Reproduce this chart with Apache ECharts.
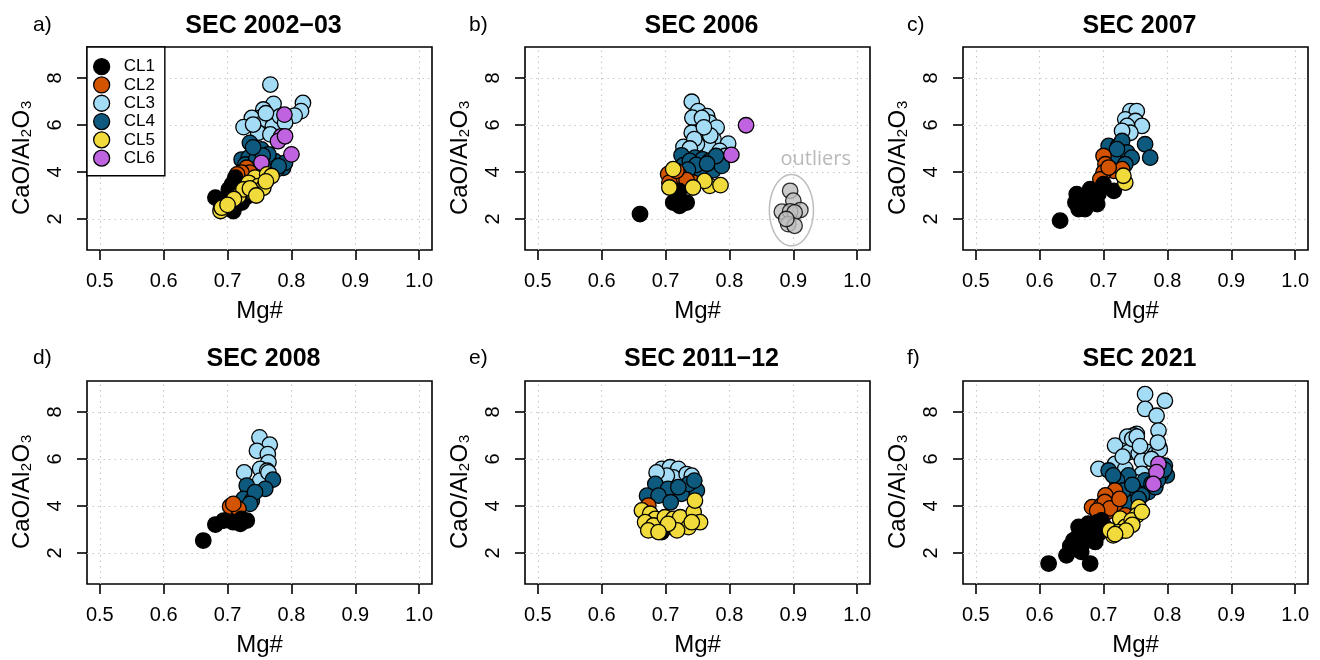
<!DOCTYPE html>
<html><head><meta charset="utf-8">
<script src="https://cdn.jsdelivr.net/npm/echarts@6/dist/echarts.min.js"></script>
<style>html,body{margin:0;padding:0;background:#fff}#c{width:1320px;height:660px}</style>
</head><body><div id="c"></div>
<script>
// ---------- data ----------
const clusterNames = ['CL1','CL2','CL3','CL4','CL5','CL6'];
const clusterColors = ['#000000','#D35400','#A4DCF6','#0E5A7E','#F0DA3C','#C063E0'];
const drawOrder = ['CL3','CL4','CL6','CL2','CL1','CL5'];
const xTicks = [0.5,0.6,0.7,0.8,0.9,1.0];
const yTicks = [2,4,6,8];
const panelTitles = ['SEC 2002\u221203','SEC 2006','SEC 2007','SEC 2008','SEC 2011\u221212','SEC 2021'];
const panelLetters = ['a)','b)','c)','d)','e)','f)'];
const xLabel = 'Mg#';
const yLabel = 'CaO/Al\u2082O\u2083';

// SEC 2002-03
const sec2002_CL1 = [[0.681,2.91],[0.689,2.77],[0.707,3.47],[0.712,3.76],[0.702,3.05],[0.709,2.34],[0.699,2.62],[0.717,3.26],[0.728,2.91],[0.722,2.70],[0.702,3.26],[0.690,2.50],[0.715,3.10],[0.705,2.90]];
const sec2002_CL2 = [[0.730,4.18],[0.735,3.97],[0.722,3.97],[0.715,3.90]];
const sec2002_CL3 = [[0.767,7.72],[0.772,6.90],[0.818,6.94],[0.815,6.59],[0.805,6.40],[0.756,6.66],[0.751,6.30],[0.738,6.30],[0.759,6.23],[0.771,5.95],[0.725,5.91],[0.748,5.67],[0.740,6.02],[0.782,6.37],[0.767,5.60],[0.760,6.50],[0.790,6.10]];
const sec2002_CL4 = [[0.735,5.24],[0.753,4.96],[0.743,4.82],[0.722,4.53],[0.733,4.61],[0.774,4.46],[0.787,4.18],[0.777,4.11],[0.769,4.32],[0.728,4.32],[0.764,4.75],[0.790,4.39],[0.762,4.04],[0.745,4.55],[0.755,4.70],[0.780,4.25],[0.740,5.05]];
const sec2002_CL5 = [[0.753,3.69],[0.743,3.76],[0.733,3.54],[0.762,3.90],[0.748,3.40],[0.756,3.33],[0.717,2.98],[0.689,2.34],[0.691,2.48],[0.740,3.12],[0.725,3.26],[0.769,3.83],[0.735,3.30],[0.760,3.60],[0.745,3.00],[0.710,2.85],[0.700,2.60]];
const sec2002_CL6 = [[0.789,6.44],[0.784,5.52],[0.779,5.31],[0.800,4.75],[0.753,4.39],[0.790,5.52]];

// SEC 2006
const sec2006_CL1 = [[0.660,2.21],[0.712,2.70],[0.733,2.70],[0.721,3.20],[0.720,2.92],[0.722,2.56]];
const sec2006_CL2 = [[0.704,3.91],[0.722,3.84],[0.743,3.55],[0.733,3.65],[0.706,3.55],[0.717,4.05]];
const sec2006_CL3 = [[0.741,6.99],[0.751,6.59],[0.742,6.31],[0.765,6.38],[0.769,6.10],[0.741,5.67],[0.765,5.75],[0.780,5.89],[0.756,5.46],[0.775,5.39],[0.728,5.07],[0.767,5.11],[0.798,5.21],[0.749,5.18],[0.785,4.90],[0.793,4.68],[0.757,6.30],[0.770,5.55],[0.760,5.90],[0.745,5.40],[0.738,5.00]];
const sec2006_CL4 = [[0.725,4.71],[0.746,4.61],[0.728,4.29],[0.758,4.54],[0.769,4.47],[0.775,4.08],[0.788,4.26],[0.754,4.12],[0.738,4.47],[0.779,4.68],[0.748,4.30],[0.765,4.35],[0.735,4.10]];
const sec2006_CL5 = [[0.769,3.41],[0.786,3.44],[0.706,3.34],[0.761,3.62],[0.712,4.12],[0.743,3.34]];
const sec2006_CL6 = [[0.826,5.99],[0.803,4.73]];
const sec2006_outliers = [[0.895,3.20],[0.900,2.78],[0.882,2.31],[0.911,2.38],[0.895,2.32],[0.902,2.28],[0.892,1.78],[0.902,1.71],[0.889,2.00]];
const outlierEllipse = [0.897,2.375,0.0345,1.52]; // centre x, centre y, radius x, radius y
const outlierNote = [0.935,4.56];

// SEC 2007
const sec2007_CL1 = [[0.632,1.93],[0.658,3.06],[0.656,2.70],[0.671,2.42],[0.661,2.42],[0.679,3.27],[0.690,2.63],[0.716,3.20],[0.700,3.48],[0.677,2.92],[0.692,3.06]];
const sec2007_CL2 = [[0.700,4.68],[0.703,4.33],[0.716,4.05],[0.700,3.98],[0.695,3.69],[0.729,4.12],[0.708,4.19]];
const sec2007_CL3 = [[0.742,6.59],[0.752,6.59],[0.734,6.24],[0.750,6.17],[0.760,5.96],[0.737,5.96],[0.742,5.67],[0.729,5.75]];
const sec2007_CL4 = [[0.708,5.11],[0.723,5.11],[0.765,5.18],[0.773,4.61],[0.716,4.54],[0.729,5.32],[0.737,4.83],[0.744,4.61],[0.734,4.33],[0.721,4.97]];
const sec2007_CL5 = [[0.734,3.55],[0.731,3.84]];

// SEC 2008
const sec2008_CL1 = [[0.662,2.53],[0.681,3.21],[0.694,3.38],[0.720,3.24],[0.730,3.38],[0.709,3.31],[0.722,3.45]];
const sec2008_CL2 = [[0.704,3.98],[0.717,3.88],[0.709,4.09]];
const sec2008_CL3 = [[0.750,6.92],[0.766,6.61],[0.746,6.35],[0.763,6.21],[0.764,5.86],[0.751,5.58],[0.726,5.43],[0.762,5.50],[0.751,5.08],[0.764,5.43]];
const sec2008_CL4 = [[0.771,5.12],[0.730,4.87],[0.759,4.73],[0.725,4.30],[0.738,4.23],[0.743,4.59],[0.735,4.09]];

// SEC 2011-12
const sec2011_CL1 = [[0.697,3.03],[0.694,2.89]];
const sec2011_CL2 = [[0.673,4.02]];
const sec2011_CL3 = [[0.694,5.58],[0.707,5.65],[0.720,5.58],[0.712,5.22],[0.733,5.36],[0.741,5.29],[0.702,5.29],[0.686,5.43]];
const sec2011_CL4 = [[0.684,4.94],[0.704,4.73],[0.671,4.44],[0.689,4.44],[0.725,4.52],[0.708,4.16],[0.749,4.66],[0.736,4.94],[0.745,5.08],[0.720,4.80]];
const sec2011_CL5 = [[0.663,3.81],[0.676,3.67],[0.684,3.45],[0.668,3.31],[0.681,3.17],[0.699,3.52],[0.712,3.45],[0.723,3.52],[0.744,3.74],[0.746,4.23],[0.754,3.31],[0.736,3.10],[0.718,2.96],[0.741,3.31],[0.704,3.24],[0.673,2.96],[0.689,2.89]];

// SEC 2021
const sec2021_CL1 = [[0.614,1.55],[0.679,1.55],[0.642,1.90],[0.661,3.11],[0.653,2.54],[0.666,2.33],[0.671,2.68],[0.684,2.89],[0.687,2.47],[0.697,3.39],[0.655,2.19],[0.676,3.25],[0.702,3.11],[0.692,2.82],[0.660,2.70],[0.675,2.95],[0.690,3.30],[0.648,2.30],[0.682,2.60],[0.665,2.05]];
const sec2021_CL2 = [[0.718,4.66],[0.703,4.45],[0.682,3.95],[0.697,4.03],[0.718,4.03],[0.734,3.60],[0.705,3.74],[0.692,3.67],[0.702,4.17],[0.710,3.90],[0.725,4.30],[0.690,3.80]];
const sec2021_CL3 = [[0.765,8.76],[0.796,8.48],[0.765,8.13],[0.783,7.84],[0.786,7.21],[0.787,6.50],[0.752,7.07],[0.739,6.93],[0.749,6.71],[0.728,6.50],[0.718,6.57],[0.739,6.29],[0.755,6.22],[0.770,6.29],[0.760,5.93],[0.692,5.58],[0.718,5.79],[0.734,5.58],[0.760,5.37],[0.749,5.02],[0.781,6.22],[0.747,7.00],[0.737,6.95],[0.745,6.85],[0.752,6.95],[0.788,6.40],[0.785,6.70],[0.775,6.00],[0.757,6.55],[0.730,6.10]];
const sec2021_CL4 = [[0.708,5.51],[0.799,5.30],[0.796,5.72],[0.728,5.09],[0.739,5.30],[0.765,5.09],[0.749,4.66],[0.770,4.59],[0.737,4.17],[0.760,4.45],[0.781,4.80],[0.721,5.09],[0.731,4.66],[0.790,5.35],[0.785,5.10],[0.775,4.95],[0.795,5.55],[0.745,4.90],[0.715,5.30],[0.755,4.30]];
const sec2021_CL5 = [[0.755,3.95],[0.752,3.60],[0.726,3.46],[0.715,2.75],[0.710,2.96],[0.734,3.11],[0.744,3.39],[0.723,2.89],[0.745,3.20],[0.735,2.95],[0.718,2.80],[0.760,3.75]];
const sec2021_CL6 = [[0.786,5.79],[0.783,5.44],[0.778,4.94]];

const panels = [
  {CL1:sec2002_CL1, CL2:sec2002_CL2, CL3:sec2002_CL3, CL4:sec2002_CL4, CL5:sec2002_CL5, CL6:sec2002_CL6},
  {CL1:sec2006_CL1, CL2:sec2006_CL2, CL3:sec2006_CL3, CL4:sec2006_CL4, CL5:sec2006_CL5, CL6:sec2006_CL6},
  {CL1:sec2007_CL1, CL2:sec2007_CL2, CL3:sec2007_CL3, CL4:sec2007_CL4, CL5:sec2007_CL5},
  {CL1:sec2008_CL1, CL2:sec2008_CL2, CL3:sec2008_CL3, CL4:sec2008_CL4},
  {CL1:sec2011_CL1, CL2:sec2011_CL2, CL3:sec2011_CL3, CL4:sec2011_CL4, CL5:sec2011_CL5},
  {CL1:sec2021_CL1, CL2:sec2021_CL2, CL3:sec2021_CL3, CL4:sec2021_CL4, CL5:sec2021_CL5, CL6:sec2021_CL6}
];

// ---------- layout ----------
const FONT = "'Liberation Sans', Arial, Helvetica, sans-serif";
const gridLefts = [87, 525, 963];
const gridTops = [47, 381];
const GW = 345, GH = 203;
const titleYs = [26, 359];
const letterXs = [33, 469, 907];
const letterYs = [25, 358];
const PT = 15.5;

const grids = [], xAxes = [], yAxes = [], series = [], graphics = [];
for (let i = 0; i < 6; i++) {
  const col = i % 3, row = Math.floor(i / 3);
  const left = gridLefts[col], top = gridTops[row];
  grids.push({left, top, width: GW, height: GH, show: true, borderColor: '#000', borderWidth: 1.6,
              backgroundColor: 'transparent', containLabel: false, outerBoundsMode: 'none'});
  xAxes.push({
    type: 'value', gridIndex: i, min: 0.48, max: 1.02, position: 'bottom',
    axisLine: {show: false}, splitLine: {show: false},
    axisTick: {show: true, customValues: xTicks, length: 10, lineStyle: {color: '#000', width: 1.6}},
    axisLabel: {show: true, customValues: xTicks, margin: 21, color: '#000', fontFamily: FONT, fontSize: 20,
                formatter: v => Number(v).toFixed(1)},
    name: xLabel, nameLocation: 'middle', nameGap: 49,
    nameTextStyle: {color: '#000', fontFamily: FONT, fontSize: 24}
  });
  yAxes.push({
    type: 'value', gridIndex: i, min: 0.68, max: 9.32, position: 'left',
    axisLine: {show: false}, splitLine: {show: false},
    axisTick: {show: true, customValues: yTicks, length: 10, lineStyle: {color: '#000', width: 1.6}},
    axisLabel: {show: true, customValues: yTicks, rotate: 90, margin: 22, color: '#000', fontFamily: FONT, fontSize: 20,
                formatter: v => String(v)},
    name: yLabel, nameLocation: 'middle', nameGap: 53,
    nameTextStyle: {color: '#000', fontFamily: FONT, fontSize: 24, padding: [0, 18, 0, 0]}
  });
  // dotted reference grid (drawn beneath the points)
  series.push({
    type: 'scatter', name: 'grid' + i, xAxisIndex: i, yAxisIndex: i, data: [], silent: true, z: 0,
    markLine: {silent: true, z: 0, symbol: ['none', 'none'], animation: false, label: {show: false},
               emphasis: {disabled: true},
               lineStyle: {color: '#c8c8c8', type: [1.5, 4], width: 1.1},
               data: xTicks.map(v => ({xAxis: v})).concat(yTicks.map(v => ({yAxis: v})))}
  });
  drawOrder.forEach(cl => {
    const d = panels[i][cl];
    if (!d) return;
    series.push({
      type: 'scatter', name: cl, xAxisIndex: i, yAxisIndex: i, data: d, z: 3,
      symbol: 'circle', symbolSize: PT,
      itemStyle: {color: clusterColors[clusterNames.indexOf(cl)], borderColor: '#000', borderWidth: 1.3, opacity: 1}
    });
  });
  graphics.push({type: 'text', x: letterXs[col], y: letterYs[row],
                 style: {text: panelLetters[i], fontFamily: FONT, fontSize: 21, fill: '#000',
                         textAlign: 'left', textVerticalAlign: 'middle'}});
  graphics.push({type: 'text', x: left + GW / 2 + 4, y: titleYs[row],
                 style: {text: panelTitles[i], fontFamily: FONT, fontWeight: 'bold', fontSize: 25, fill: '#000',
                         textAlign: 'center', textVerticalAlign: 'middle'}});
}

// outliers in SEC 2006
series.push({
  type: 'scatter', name: 'outliers', xAxisIndex: 1, yAxisIndex: 1, data: sec2006_outliers, z: 3,
  symbol: 'circle', symbolSize: PT,
  itemStyle: {color: '#BEBEBE', borderColor: '#000', borderWidth: 1.3}
});
series.push({
  type: 'custom', name: 'outlierEllipse', xAxisIndex: 1, yAxisIndex: 1, data: [outlierEllipse], z: 2, silent: true,
  renderItem: function (params, api) {
    const cx = api.value(0), cy = api.value(1), rx = api.value(2), ry = api.value(3);
    const c = api.coord([cx, cy]);
    const e = api.coord([cx + rx, cy + ry]);
    const a = e[0] - c[0], b = c[1] - e[1];
    const pts = [];
    for (let k = 0; k <= 90; k++) {
      const t = k / 90 * Math.PI * 2;
      pts.push([c[0] + a * Math.cos(t), c[1] + b * Math.sin(t)]);
    }
    return {type: 'polyline', shape: {points: pts}, style: {stroke: '#BDBDBD', lineWidth: 1.5, fill: null}};
  }
});
series.push({
  type: 'scatter', name: 'outlierNote', xAxisIndex: 1, yAxisIndex: 1, data: [outlierNote], z: 3, silent: true,
  symbolSize: 1, itemStyle: {color: 'rgba(255,255,255,0)'},
  label: {show: true, position: 'inside', formatter: 'outliers', color: '#A8A8A8',
          fontFamily: "'Open Sans', 'Noto Sans', sans-serif", fontSize: 20}
});

const chart = echarts.init(document.getElementById('c'), null, {renderer: 'canvas'});
chart.setOption({
  animation: false,
  backgroundColor: '#ffffff',
  grid: grids, xAxis: xAxes, yAxis: yAxes, series: series, graphic: graphics,
  legend: {
    data: clusterNames, left: 87, top: 47, orient: 'vertical', icon: 'circle', z: 10,
    itemWidth: 16, itemHeight: 16, itemGap: 1, padding: [11, 10, 9, 6],
    borderColor: '#000', borderWidth: 1.4, backgroundColor: '#fff', selectedMode: false,
    itemStyle: {borderColor: '#000', borderWidth: 1.3},
    textStyle: {color: '#000', fontFamily: FONT, fontSize: 17, lineHeight: 16, padding: [0, 0, 0, 9]}
  }
});
</script></body></html>
